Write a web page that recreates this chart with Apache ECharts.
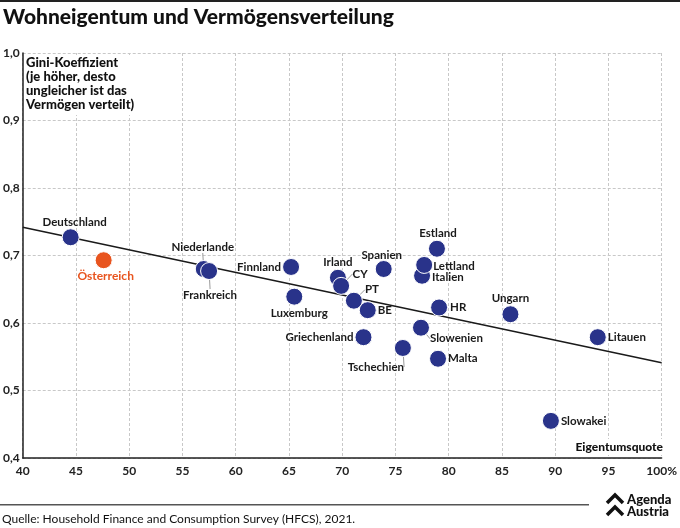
<!DOCTYPE html>
<html>
<head>
<meta charset="utf-8">
<script src="https://cdn.jsdelivr.net/npm/echarts@6/dist/echarts.min.js"></script>
<style>html,body{margin:0;padding:0;background:#fff}#c{width:680px;height:528px}</style>
</head>
<body>
<div id="c"></div>
<script>
// ---- data ----
const countries = ['Deutschland','Niederlande','Frankreich','Finnland','Luxemburg','Irland','CY','PT','BE','Griechenland','Spanien','Tschechien','Slowenien','Estland','Italien','Lettland','HR','Malta','Ungarn','Litauen','Slowakei'];
const ownershipRate = [44.5, 57.0, 57.5, 65.2, 65.5, 69.6, 69.9, 71.1, 72.4, 72.0, 73.9, 75.7, 77.4, 78.9, 77.5, 77.7, 79.1, 79.0, 85.8, 94.0, 89.6];
const giniCoef = [0.727, 0.680, 0.677, 0.683, 0.639, 0.667, 0.655, 0.633, 0.619, 0.579, 0.680, 0.563, 0.593, 0.710, 0.670, 0.686, 0.623, 0.547, 0.613, 0.579, 0.455];
const austriaName = 'Österreich';
const austriaX = 47.6;
const austriaY = 0.693;
const trendX = [40, 100];
const trendY = [0.742, 0.541];
const xTicks = [40,45,50,55,60,65,70,75,80,85,90,95,100];
const yTicks = [0.4,0.5,0.6,0.7,0.8,0.9,1.0];

// ---- label placement (style, not data) ----
const labelPlace = {
  'Deutschland': {dx: 4, dy: -15, align: 'center'},
  'Österreich': {dx: 2, dy: 16, align: 'center'},
  'Niederlande': {dx: -1, dy: -22, align: 'center', line: true},
  'Frankreich': {dx: 1, dy: 24, align: 'center', line: true},
  'Finnland': {dx: -10, dy: 0, align: 'right'},
  'Luxemburg': {dx: 5, dy: 17, align: 'center'},
  'Irland': {dx: 0, dy: -15, align: 'center'},
  'CY': {dx: 19, dy: -12, align: 'center', line: true},
  'PT': {dx: 18, dy: -11, align: 'center', line: true},
  'BE': {dx: 10, dy: 0, align: 'left'},
  'Griechenland': {dx: -10, dy: 0, align: 'right'},
  'Spanien': {dx: -2, dy: -14, align: 'center'},
  'Tschechien': {dx: -27, dy: 19, align: 'center', line: true},
  'Slowenien': {dx: 9, dy: 11, align: 'left', line: true},
  'Estland': {dx: 1, dy: -15, align: 'center'},
  'Lettland': {dx: 9, dy: 1, align: 'left'},
  'Italien': {dx: 10, dy: 2, align: 'left'},
  'HR': {dx: 11, dy: 0, align: 'left'},
  'Malta': {dx: 10, dy: 0, align: 'left'},
  'Ungarn': {dx: 0, dy: -16, align: 'center'},
  'Litauen': {dx: 10, dy: 0, align: 'left'},
  'Slowakei': {dx: 10, dy: 0, align: 'left'}
};

const NAVY = '#29338a';
const ORANGE = '#e8541e';
const FONT = 'Lato';

function layoutFn(params, names) {
  const name = names[params.dataIndex];
  const p = labelPlace[name];
  const r = params.rect;
  const cx = r.x + r.width / 2, cy = r.y + r.height / 2;
  return {x: cx + p.dx, y: cy + p.dy, align: p.align, verticalAlign: 'middle'};
}

const countryData = countries.map((n, i) => ({
  name: n,
  value: [ownershipRate[i], giniCoef[i]],
  labelLine: {show: !!labelPlace[n].line}
}));

const chart = echarts.init(document.getElementById('c'), null, {renderer: 'canvas'});
chart.setOption({
  animation: false,
  backgroundColor: '#fff',
  textStyle: {fontFamily: FONT},
  grid: {left: 22, right: 14, top: 53, bottom: 70},
  xAxis: {
    type: 'value', min: 40, max: 100, interval: 5,
    axisLine: {show: true, onZero: false, lineStyle: {color: '#222', width: 1.5}},
    axisTick: {show: false},
    splitLine: {show: true, lineStyle: {color: '#c8c8c8', type: [3, 2], width: 1}},
    axisLabel: {color: '#222', fontSize: 12, fontWeight: 'bold', fontFamily: FONT, margin: 7,
      formatter: v => xTicks.indexOf(v) >= 0 ? (v === 100 ? '100%' : String(v)) : ''}
  },
  yAxis: {
    type: 'value', min: 0.4, max: 1.0, interval: 0.1,
    axisLine: {show: true, onZero: false, lineStyle: {color: '#222', width: 1.5}},
    axisTick: {show: false},
    splitLine: {show: true, lineStyle: {color: '#c8c8c8', type: [3, 2], width: 1}},
    axisLabel: {color: '#222', fontSize: 12, fontWeight: 'bold', fontFamily: FONT, margin: 3,
      formatter: v => {
        const t = yTicks.find(k => Math.abs(k - v) < 1e-6);
        return t !== undefined ? t.toFixed(1).replace('.', ',') : '';
      }}
  },
  series: [
    {
      type: 'line',
      data: trendX.map((x, i) => [x, trendY[i]]),
      symbol: 'none',
      lineStyle: {color: '#1a1a1a', width: 1.5},
      z: 2,
      silent: true
    },
    {
      type: 'scatter',
      data: countryData,
      symbolSize: 17,
      itemStyle: {color: NAVY, borderColor: '#fff', borderWidth: 1, opacity: 1},
      label: {show: true, formatter: p => p.name, color: '#1a1a1a', fontSize: 11.5, fontWeight: 'bold', fontFamily: FONT, position: 'inside'},
      labelLine: {show: false, lineStyle: {color: '#9a9a9a', width: 1}},
      labelLayout: p => layoutFn(p, countries),
      z: 3
    },
    {
      type: 'scatter',
      data: [{name: austriaName, value: [austriaX, austriaY]}],
      symbolSize: 17,
      itemStyle: {color: ORANGE, borderColor: '#fff', borderWidth: 1, opacity: 1},
      label: {show: true, formatter: p => p.name, color: ORANGE, fontSize: 12, fontWeight: 'bold', fontFamily: FONT, position: 'inside'},
      labelLayout: p => layoutFn(p, [austriaName]),
      z: 3
    }
  ],
  graphic: [
    {type: 'rect', left: 0, top: 0, shape: {width: 680, height: 2}, style: {fill: '#222'}},
    {type: 'text', left: 3, top: 7, style: {text: 'Wohneigentum und Vermögensverteilung', fill: '#111', font: '900 21px Lato'}},
    {type: 'text', left: 24, top: 55, z: 10, style: {text: 'Gini-Koeffizient\n(je höher, desto\nungleicher ist das\nVermögen verteilt)', fill: '#111', font: '900 13px Lato', lineHeight: 14, backgroundColor: '#fff', padding: [1, 3, 3, 2]}},
    {type: 'text', x: 665, y: 447, z: 10, style: {text: 'Eigentumsquote', fill: '#111', font: '900 12px Lato', textAlign: 'right', textVerticalAlign: 'middle', backgroundColor: '#fff', padding: [2, 2, 2, 3]}},
    {type: 'rect', left: 0, top: 504, shape: {width: 589, height: 1.5}, style: {fill: '#555'}},
    {type: 'text', left: 2, top: 513, style: {text: 'Quelle: Household Finance and Consumption Survey (HFCS), 2021.', fill: '#111', font: '12px Lato'}},
    {type: 'polyline', shape: {points: [[607,503],[615,495],[623,503]]}, style: {stroke: '#111', lineWidth: 3.5, fill: null}},
    {type: 'polyline', shape: {points: [[607,515],[615,507],[623,515]]}, style: {stroke: '#111', lineWidth: 3.5, fill: null}},
    {type: 'text', left: 627, top: 493, style: {text: 'Agenda\nAustria', fill: '#111', font: '900 13px Lato', lineHeight: 12}}
  ]
});
</script>
</body>
</html>
